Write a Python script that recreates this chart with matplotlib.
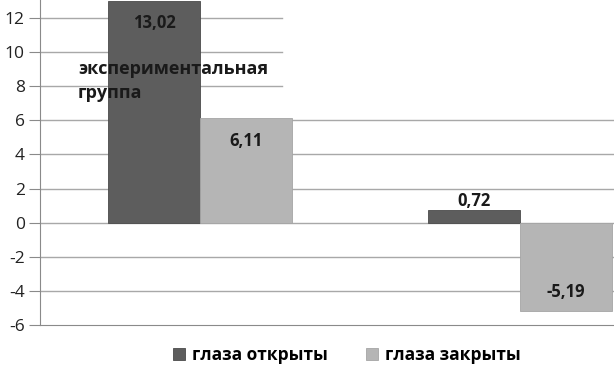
import matplotlib

matplotlib.use("Agg")
import matplotlib.pyplot as plt
import numpy as np

categories = ["экспериментальная\nгруппа", "контрольная\nгруппа"]
series_names = ["глаза открыты", "глаза закрыты"]
eyes_open = [13.02, 0.72]
eyes_closed = [6.11, -5.19]
value_labels_open = ["13,02", "0,72"]
value_labels_closed = ["6,11", "-5,19"]
y_ticks = [-6, -4, -2, 0, 2, 4, 6, 8, 10, 12]

plt.rcParams["font.family"] = ["Open Sans", "DejaVu Sans"]

dark = "#5d5d5d"
light = "#b5b5b5"
grid_color = "#a8a8a8"

fig = plt.figure(figsize=(6.14, 3.70), dpi=100)
ax = fig.add_axes([40 / 614, 45 / 370, 1 - 40 / 614, 325 / 370])

x = np.arange(len(categories))
w = 0.2875
b1 = ax.bar(x - w / 2, eyes_open, w, color=dark, edgecolor="#4a4a4a", linewidth=0.6, zorder=3,
            label=series_names[0])
b2 = ax.bar(x + w / 2, eyes_closed, w, color=light, edgecolor="#a5a5a5", linewidth=0.6, zorder=3,
            label=series_names[1])

ax.set_xlim(-0.5, (614 - 200) / 320)
ax.set_ylim(-6, 13.05)
ax.set_yticks(y_ticks)
ax.set_yticklabels([str(t) for t in y_ticks], fontsize=12.5, color="#222222")
ax.set_xticks([])

# gridlines; the upper ones stop short on the right like in the source picture
short = (282 - 40) / 574
for t in y_ticks:
    if t == -6:
        continue
    xmax = short if t >= 8 else 1.0
    ax.axhline(t, xmin=0, xmax=xmax, color=grid_color, linewidth=1.0, zorder=1)

for side in ["top", "right"]:
    ax.spines[side].set_visible(False)
ax.spines["left"].set_color("#8a8a8a")
ax.spines["bottom"].set_color("#8a8a8a")
ax.tick_params(axis="y", length=8, color="#8a8a8a", pad=3)

lbl = dict(ha="center", fontsize=12, fontweight="bold", color="#1a1a1a", zorder=5)
ax.text(x[0] - w / 2, eyes_open[0] - 1.3, value_labels_open[0], va="center", **lbl)
ax.text(x[0] + w / 2, eyes_closed[0] - 1.35, value_labels_closed[0], va="center", **lbl)
ax.text(x[1] - w / 2, eyes_open[1] + 0.05, value_labels_open[1], va="bottom", **lbl)
ax.text(x[1] + w / 2, eyes_closed[1] + 1.1, value_labels_closed[1], va="center", **lbl)

# category name sits inside the plot, top left
ax.text((78 - 40) / 574, 0.815, categories[0], transform=ax.transAxes,
        fontsize=13, fontweight="bold", color="#1a1a1a", va="top", ha="left",
        linespacing=1.4, zorder=6)

fig.legend(handles=[b1, b2], labels=series_names, loc="center", bbox_to_anchor=(0.565, 15 / 370),
           ncol=2, frameon=False, prop={"size": 12.5, "weight": "bold"}, handlelength=0.7,
           handleheight=0.7, handletextpad=0.4, columnspacing=2.2)

fig.savefig("out.png", dpi=100)
